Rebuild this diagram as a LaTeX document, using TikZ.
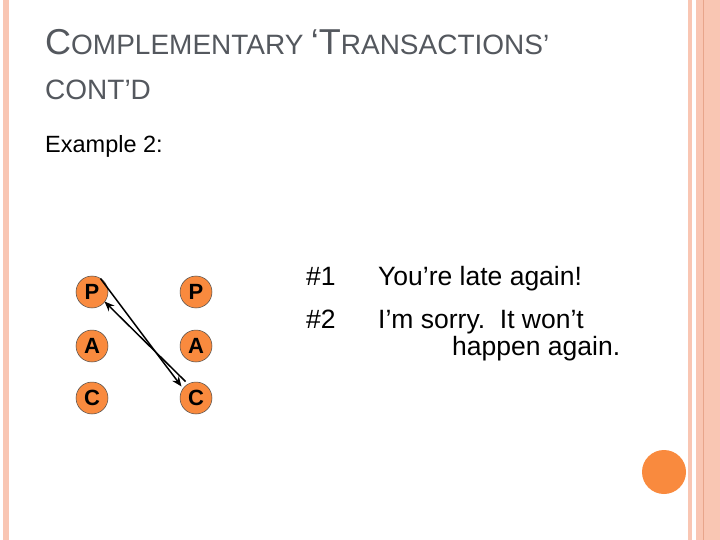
\documentclass[tikz,border=0pt]{standalone}
\usepackage{fontspec}
\usetikzlibrary{arrows.meta}
\setmainfont{Liberation Sans}
\begin{document}
\begin{tikzpicture}[x=1pt,y=-1pt,
  pac/.style={circle,draw=black!70,line width=0.5pt,fill=orange1,minimum size=32pt,inner sep=0pt,font=\fontsize{22}{22}\selectfont\bfseries},
  txt/.style={anchor=base west,inner sep=0pt,font=\fontsize{26.5}{30}\selectfont},
  arr/.style={-{Stealth[length=10pt,width=8pt]},line width=1.5pt}]
\definecolor{orange1}{HTML}{F98A3E}
\definecolor{peach}{HTML}{F9C6B3}
\definecolor{peachd}{HTML}{E8A58B}
\definecolor{titlegray}{HTML}{54585E}
\fill[white] (0,0) rectangle (720,540);
\useasboundingbox (0,0) rectangle (720,540);
\fill[peach] (3,0) rectangle (9,540);
\fill[peach] (688,0) rectangle (692,540);
\fill[peach] (696,0) rectangle (720,540);
\draw[peachd,line width=0.8pt] (703,0) -- (703,540);
\fill[orange1] (664,472) circle (22);
\node[txt,text=titlegray] (t1) at (45,55) {{\fontsize{36}{36}\selectfont C}{\fontsize{28}{28}\selectfont OMPLEMENTARY}\ {\fontsize{36}{36}\selectfont ‘T}{\fontsize{28}{28}\selectfont RANSACTIONS’}};
\node[txt,text=titlegray] (t2) at (45,100) {{\fontsize{28}{28}\selectfont CONT’D}};
\node[txt,font=\fontsize{23.5}{28}\selectfont] (ex) at (45,153) {Example 2:};
\node[pac] (pl) at (92,292) {P};
\node[pac] (al) at (92,346) {A};
\node[pac] (cl) at (92,398) {C};
\node[pac] (pr) at (196,292) {P};
\node[pac] (ar) at (196,346) {A};
\node[pac] (cr) at (196,398) {C};
\draw[arr] ([xshift=-3pt,yshift=2pt]pl.north east) -- ([xshift=-3pt,yshift=0pt]cr.north west);
\draw[arr] ([xshift=1pt,yshift=5pt]cr.north west) -- ([xshift=1pt,yshift=2pt]pl.south east);
\node[txt] (n1) at (306,285) {\#1};
\node[txt] (m1) at (378,285) {You’re late again!};
\node[txt] (n2) at (306,328) {\#2};
\node[txt] (m2) at (378,328) {I’m sorry.\ \ It won’t};
\node[txt] (m3) at (452,355) {happen again.};
\end{tikzpicture}
\end{document}
